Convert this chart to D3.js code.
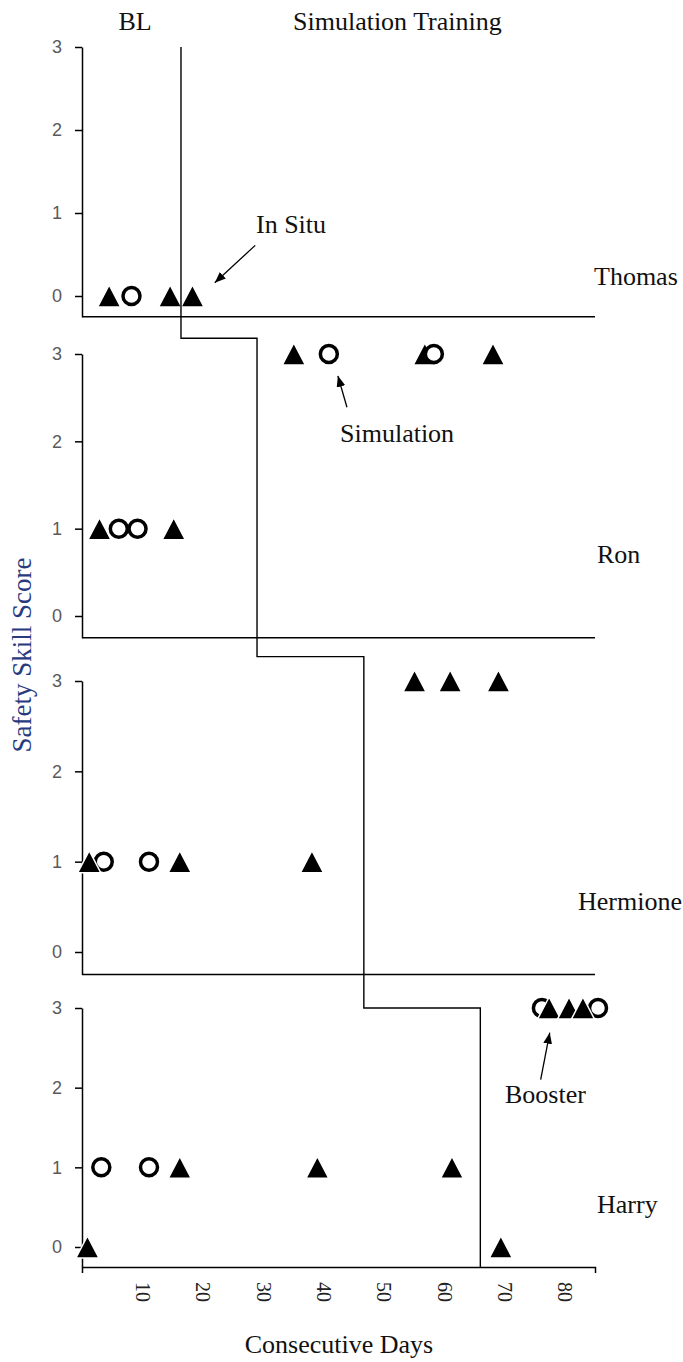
<!DOCTYPE html>
<html>
<head>
<meta charset="utf-8">
<script src="https://cdn.jsdelivr.net/npm/d3@7"></script>
<style>
  body { margin: 0; background: #fff; }
  svg { display: block; }
  .serif { font-family: "Liberation Serif", "Times New Roman", serif; }
  .y.axis text { font-family: "Liberation Sans", Arial, sans-serif; font-size: 18px; fill: #5a5a5a; }
  .y.axis line, .y.axis path { stroke: #000; stroke-width: 1.5; }
</style>
</head>
<body>
<svg id="chart" width="683" height="1362"></svg>
<script>
// participants, top panel to bottom panel
var participants = ["Thomas", "Ron", "Hermione", "Harry"];

// in situ probes (filled triangles): day and score
var inSituDays = [
  [4.5, 14.6, 18.3],
  [2.9, 15.2, 35.1, 56.8, 68.1],
  [1.2, 16.2, 38.1, 55.1, 61.0, 69.0],
  [0.9, 16.2, 39.0, 61.3, 69.4, 77.4, 80.7, 83.0]
];
var inSituScores = [
  [0, 0, 0],
  [1, 1, 3, 3, 3],
  [1, 1, 1, 3, 3, 3],
  [0, 1, 1, 1, 0, 3, 3, 3]
];

// simulation probes (open circles): day and score
var simDays = [
  [8.2],
  [6.1, 9.2, 40.9, 58.3],
  [3.6, 11.1],
  [3.2, 11.1, 76.2, 85.5]
];
var simScores = [
  [0],
  [1, 1, 3, 3],
  [1, 1],
  [1, 1, 3, 3]
];

// day where baseline ends and simulation training starts
var phaseChangeDays = [16.4, 29.0, 46.7, 66.0];

var xTicks = [10, 20, 30, 40, 50, 60, 70, 80];
var yTicks = [0, 1, 2, 3];

// ---- layout ----
var svg = d3.select("#chart");
var xScale = d3.scaleLinear().domain([0, 85]).range([82, 595]);

// pixel rows of score 0 and score 3 for each panel
var panelRows = [[296, 47], [616, 354], [952, 681], [1247, 1008]];
var yMin = -0.25;
// level (in the lower panel's units) where the phase line crosses over
var stepLevels = [3, 3.18, 3.27, 3.0];
var circlesOnTop = [false, true, false, false];
var labelPos = [[594, 285], [597, 563], [578, 910], [597, 1213]];

var yScales = panelRows.map(function(r) {
  return d3.scaleLinear().domain([0, 3]).range([r[0], r[1]]);
});

// arrowhead
svg.append("defs").append("marker")
    .attr("id", "arrow")
    .attr("viewBox", "0 0 10 8")
    .attr("refX", 10).attr("refY", 4)
    .attr("markerUnits", "userSpaceOnUse")
    .attr("markerWidth", 11).attr("markerHeight", 9)
    .attr("orient", "auto")
  .append("path")
    .attr("d", "M0,0L10,4L0,8Z")
    .attr("fill", "#000");

function triPath(w, h) {
  return "M0," + (-h / 2) + "L" + (w / 2) + "," + (h / 2) + "L" + (-w / 2) + "," + (h / 2) + "Z";
}

participants.forEach(function(name, i) {
  var y = yScales[i];
  var g = svg.append("g").attr("class", "panel");

  // y axis
  g.append("g")
      .attr("class", "y axis")
      .attr("transform", "translate(" + xScale(0) + ",0)")
      .call(d3.axisLeft(d3.scaleLinear().domain([yMin, 3]).range([y(yMin), y(3)]))
        .tickValues(yTicks)
        .tickSizeInner(7)
        .tickSizeOuter(0)
        .tickPadding(13)
        .tickFormat(d3.format("d")));

  // baseline of the panel
  if (i < participants.length - 1) {
    g.append("line")
        .attr("x1", xScale(0)).attr("x2", xScale(85))
        .attr("y1", y(yMin)).attr("y2", y(yMin))
        .attr("stroke", "#000").attr("stroke-width", 1.5);
  }

  var circles = simDays[i].map(function(d, j) { return {day: d, score: simScores[i][j]}; });
  var tris = inSituDays[i].map(function(d, j) { return {day: d, score: inSituScores[i][j]}; });

  function drawCircles() {
    g.selectAll("circle.sim")
      .data(circles)
      .enter().append("circle")
        .attr("class", "sim")
        .attr("cx", function(d) { return xScale(d.day); })
        .attr("cy", function(d) { return y(d.score); })
        .attr("r", 8.5)
        .attr("fill", "#fff")
        .attr("stroke", "#000")
        .attr("stroke-width", 3.5);
  }
  function drawTris() {
    g.selectAll("path.insitu")
      .data(tris)
      .enter().append("path")
        .attr("class", "insitu")
        .attr("d", triPath(23, 22))
        .attr("transform", function(d) { return "translate(" + xScale(d.day) + "," + y(d.score) + ")"; })
        .attr("fill", "#000")
        .attr("stroke", "#fff")
        .attr("stroke-width", 1.5);
  }
  if (circlesOnTop[i]) { drawTris(); drawCircles(); } else { drawCircles(); drawTris(); }

  // participant name
  svg.append("text")
      .attr("class", "serif")
      .attr("x", labelPos[i][0]).attr("y", labelPos[i][1])
      .attr("font-size", 26)
      .attr("fill", "#111")
      .text(name);
});

// x axis on the bottom panel
var lastY = yScales[yScales.length - 1];
var xAxisG = svg.append("g")
    .attr("class", "x axis")
    .attr("transform", "translate(0," + lastY(yMin) + ")")
    .call(d3.axisBottom(xScale)
      .tickValues(xTicks)
      .tickSizeInner(0)
      .tickSizeOuter(6)
      .tickPadding(0));
xAxisG.select(".domain").attr("stroke", "#000").attr("stroke-width", 1.5);
xAxisG.selectAll(".tick text")
    .attr("class", "serif")
    .attr("font-size", 20)
    .attr("fill", "#222")
    .attr("text-anchor", "middle")
    .attr("transform", "translate(0,25) rotate(90)")
    .attr("y", 0)
    .attr("dy", "0.35em");

// phase change line
var phasePts = [[xScale(phaseChangeDays[0]), yScales[0](stepLevels[0])]];
for (var k = 1; k < phaseChangeDays.length; k++) {
  phasePts.push([xScale(phaseChangeDays[k - 1]), yScales[k](stepLevels[k])]);
  phasePts.push([xScale(phaseChangeDays[k]), yScales[k](stepLevels[k])]);
}
phasePts.push([xScale(phaseChangeDays[phaseChangeDays.length - 1]), lastY(yMin)]);

svg.append("path")
    .datum(phasePts)
    .attr("d", d3.line())
    .attr("fill", "none")
    .attr("stroke", "#000")
    .attr("stroke-width", 1.4);

// annotations: text start, arrow from -> to (days, panel score units)
var notes = [
  {panel: 0, text: "In Situ",    tx: 256, ty: 233, from: [28.7, 0.61], to: [22.0, 0.16]},
  {panel: 1, text: "Simulation", tx: 340, ty: 442, from: [43.9, 2.39], to: [42.4, 2.75]},
  {panel: 3, text: "Booster",    tx: 505, ty: 1103, from: [76.0, 2.10], to: [77.5, 2.69]}
];
notes.forEach(function(n) {
  var y = yScales[n.panel];
  svg.append("line")
      .attr("x1", xScale(n.from[0])).attr("y1", y(n.from[1]))
      .attr("x2", xScale(n.to[0])).attr("y2", y(n.to[1]))
      .attr("stroke", "#000").attr("stroke-width", 1.3)
      .attr("marker-end", "url(#arrow)");
  svg.append("text")
      .attr("class", "serif")
      .attr("x", n.tx).attr("y", n.ty)
      .attr("font-size", 26)
      .attr("fill", "#111")
      .text(n.text);
});

// phase headers
svg.append("text").attr("class", "serif")
    .attr("x", 135).attr("y", 30).attr("text-anchor", "middle")
    .attr("font-size", 26).attr("fill", "#111")
    .text("BL");
svg.append("text").attr("class", "serif")
    .attr("x", 293).attr("y", 30)
    .attr("font-size", 26).attr("fill", "#111")
    .text("Simulation Training");

// axis titles
svg.append("text").attr("class", "serif")
    .attr("transform", "translate(31,655) rotate(-90)")
    .attr("text-anchor", "middle")
    .attr("font-size", 27).attr("fill", "#2a3a7e")
    .text("Safety Skill Score");
svg.append("text").attr("class", "serif")
    .attr("x", 339).attr("y", 1353).attr("text-anchor", "middle")
    .attr("font-size", 26).attr("fill", "#111")
    .text("Consecutive Days");
</script>
</body>
</html>
